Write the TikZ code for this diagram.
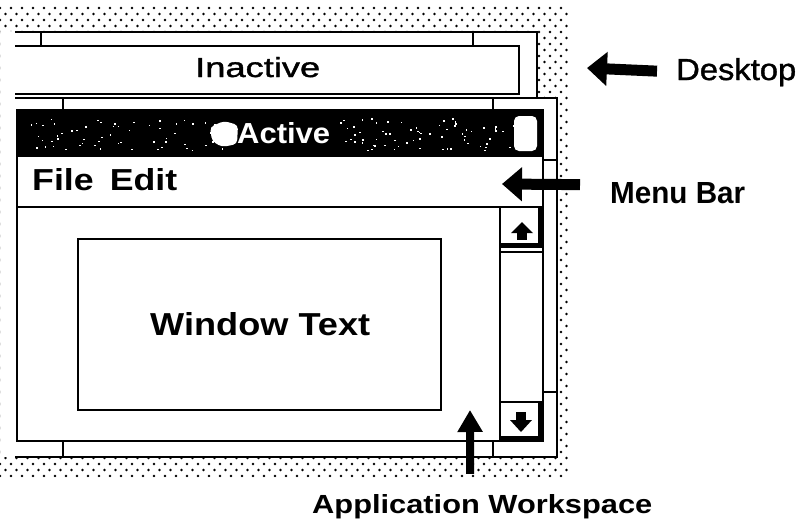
\documentclass[tikz,border=0pt]{standalone}
\usepackage{fontspec}
\setmainfont{Liberation Sans}
\newfontfamily\medfont{Liberation Sans}[FakeBold=1.2]
\usepackage{graphicx}
\usetikzlibrary{arrows.meta}
\begin{document}
\begin{tikzpicture}[x=1pt,y=-1pt,
  frame/.style={line width=2.4pt},
  lbl/.style={inner sep=0pt, anchor=base west},
  fatarrow/.style={line width=11pt,-{Triangle[length=20pt,width=33pt]}},
  upfatarrow/.style={line width=8pt,-{Triangle[length=22pt,width=24pt]}},
  dot/.style={fill=black},
  speck/.style={fill=white},
]
\useasboundingbox (0,0) rectangle (803,523);
\fill[white] (0,0) rectangle (803,523);

% desktop dots
\begin{scope}[even odd rule]
\clip (0,5) rectangle (570,477)
  (0,31) -- (537,31) -- (537,97) -- (557,97) -- (557,457) -- (0,457) -- cycle;
\foreach \r in {0,...,80}{
  \pgfmathsetmacro\yy{8+6*\r}
  \pgfmathsetmacro\off{mod(\r,2)*5.5}
  \foreach \c in {0,...,52}{
    \fill[dot] (\off+11*\c,\yy) circle (1.35);
  }
}
\end{scope}

% inactive window
\draw[frame] (15,32) -- (537,32) -- (537,98);
\draw[frame] (41,32) -- (41,46);
\draw[frame] (473,32) -- (473,46);
\draw[frame] (15,46) -- (519,46) -- (519,94) -- (15,94);

% active window frame
\draw[frame] (15,98) -- (557,98) -- (557,457) -- (15,457);
\draw[frame] (63,98) -- (63,110);
\draw[frame] (493,98) -- (493,110);
\draw[frame] (543,160) -- (557,160);
\draw[frame] (543,392) -- (557,392);
\draw[frame] (63,441) -- (63,457);
\draw[frame] (493,441) -- (493,457);

% title bar
\fill (17,110) rectangle (543,157);
\begin{scope}
\pgfmathsetseed{7}
\foreach \i in {1,...,60}{
  \pgfmathsetmacro\sx{30+rnd*200}
  \pgfmathsetmacro\sy{118+rnd*32}
  \fill[speck] (\sx,\sy) rectangle ++(1.6,1.4);
}
\foreach \i in {1,...,70}{
  \pgfmathsetmacro\sx{340+rnd*175}
  \pgfmathsetmacro\sy{118+rnd*32}
  \fill[speck] (\sx,\sy) rectangle ++(1.6,1.4);
}
\end{scope}
\fill[white, rounded corners=4pt] (210,127) -- (224,121) -- (238,125) -- (237,144) -- (222,147) -- (212,141) -- cycle;
\fill[white, rounded corners=5pt] (514,116) rectangle (537,151);
\draw[frame] (17,110) rectangle (543,441);
\draw[frame] (17,207) -- (543,207);

% scroll bar
\draw[frame] (500,207) -- (500,441);
\fill (538,207) rectangle (543,248);
\fill (500,243) rectangle (543,248);
\draw[frame] (500,252) -- (543,252);
\draw[frame] (500,402) -- (543,402);
\fill (538,402) rectangle (543,441);
\fill (500,436) rectangle (543,441);
\fill (522,222) -- (511,233) -- (533,233) -- cycle;
\fill (517,233) rectangle (527,240);
\fill (516,412) rectangle (526,420);
\fill (510,420) -- (532,420) -- (521,432) -- cycle;

% window text box
\draw[frame] (78,239) rectangle (441,410);

% texts
\node[lbl] (inact) at (195,77) {\resizebox{125pt}{20pt}{\medfont Inactive}};
\node[lbl, text=white] (act) at (237,143) {\resizebox{93pt}{21pt}{\bfseries Active}};
\node[lbl] (filemenu) at (32,190) {\resizebox{145pt}{22pt}{\bfseries File\hspace{0.45em}Edit}};
\node[lbl] (wtext) at (150,335) {\resizebox{220pt}{23pt}{\bfseries Window Text}};
\node[lbl] (desk) at (676,80) {\resizebox{120pt}{22pt}{\medfont Desktop}};
\node[lbl] (menulbl) at (610,203) {\resizebox{135pt}{21pt}{\bfseries Menu Bar}};
\node[lbl] (applbl) at (312,513) {\resizebox{340pt}{19pt}{\bfseries Application Workspace}};

% pointer arrows
\coordinate (deskpt) at (587,68);
\coordinate (menupt) at (502,184);
\coordinate (apppt) at (470,410);
\draw[fatarrow] ([xshift=-19pt,yshift=1pt]desk.west) -- (deskpt);
\draw[fatarrow] ([xshift=-30pt,yshift=8pt]menulbl.west) -- (menupt);
\draw[upfatarrow] ([xshift=-12pt,yshift=20pt]applbl.north) -- (apppt);
\end{tikzpicture}
\end{document}
